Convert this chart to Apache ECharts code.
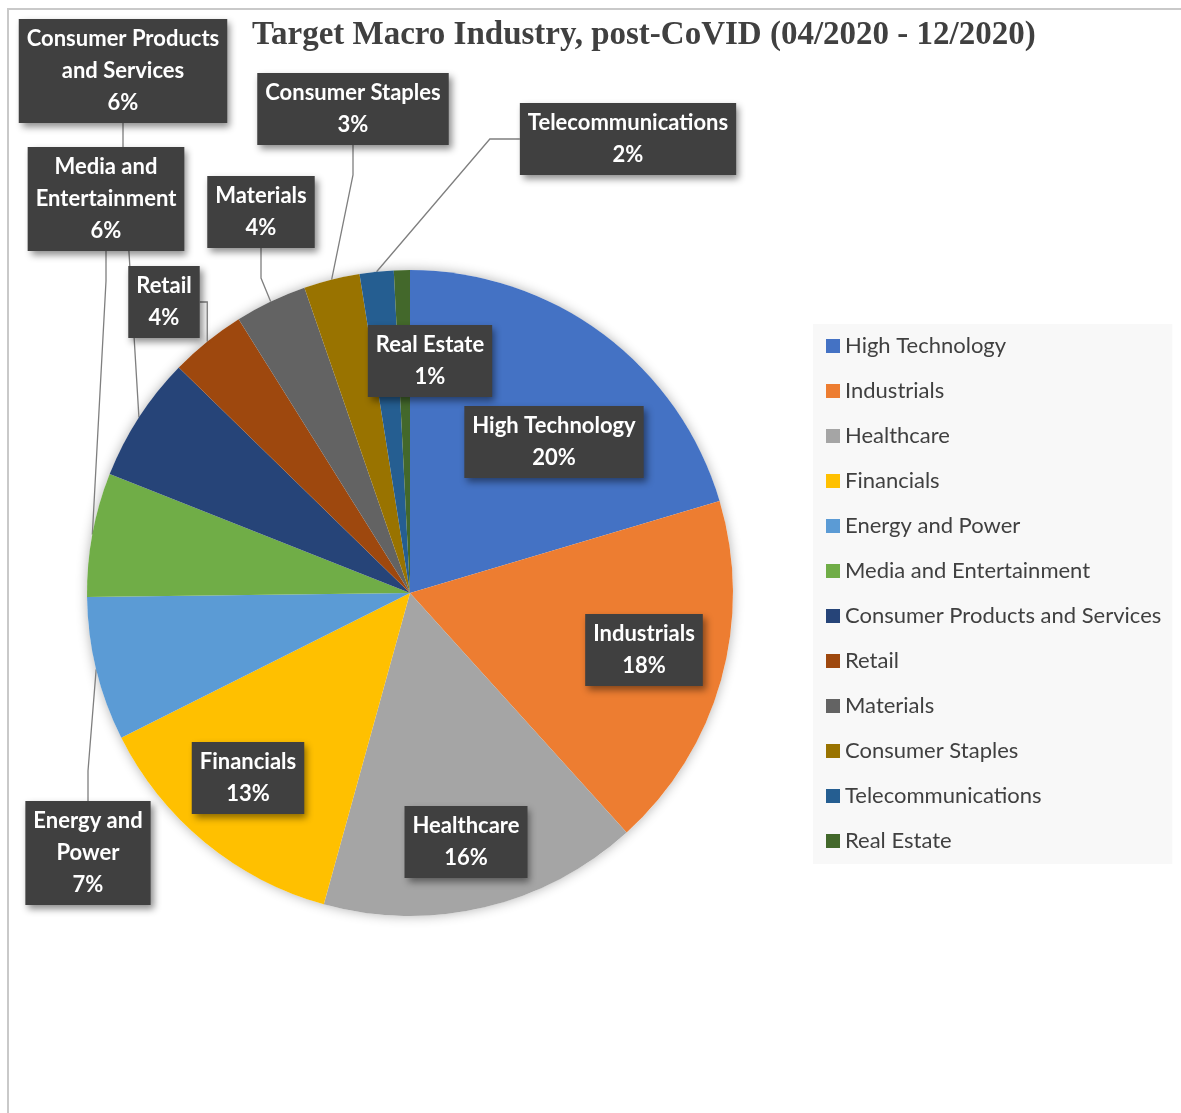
<!DOCTYPE html>
<html>
<head>
<meta charset="utf-8">
<script src="https://cdn.jsdelivr.net/npm/echarts@6/dist/echarts.min.js"></script>
<style>
  html, body { margin: 0; padding: 0; background: #fff; }
  #chart { width: 1181px; height: 1113px; }
</style>
</head>
<body>
<div id="chart"></div>
<script>
// ---- data ----
const categories = [
  'High Technology', 'Industrials', 'Healthcare', 'Financials',
  'Energy and Power', 'Media and Entertainment', 'Consumer Products and Services',
  'Retail', 'Materials', 'Consumer Staples', 'Telecommunications', 'Real Estate'
];
const shares = [20.4, 17.9, 16.0, 13.3, 7.2, 6.2, 6.3, 3.8, 3.6, 2.8, 1.7, 0.8];
const labelTexts = [
  'High Technology', 'Industrials', 'Healthcare', 'Financials',
  'Energy and\nPower', 'Media and\nEntertainment', 'Consumer Products\nand Services',
  'Retail', 'Materials', 'Consumer Staples', 'Telecommunications', 'Real Estate'
];
const titleText = 'Target Macro Industry, post-CoVID (04/2020 - 12/2020)';

// ---- styles ----
const colors = ['#4472C4', '#ED7D31', '#A5A5A5', '#FFC000', '#5B9BD5', '#70AD47',
  '#264478', '#9E480E', '#636363', '#997300', '#255E91', '#43682B'];
// label box centres (layout only)
const labelCentres = [
  [554, 442], [644, 650], [466, 842], [248, 778], [88, 853], [106, 199],
  [123, 71], [164, 302], [261, 212], [353, 109], [628, 139], [430, 361]
];
const insideLabel = [true, true, true, true, false, false, false, false, false, false, false, true];

const chart = echarts.init(document.getElementById('chart'), null, { renderer: 'canvas' });

const data = categories.map((name, i) => ({
  name: name,
  value: shares[i],
  itemStyle: { color: colors[i] },
  labelLine: { show: !insideLabel[i] }
}));

const option = {
  backgroundColor: '#ffffff',
  animation: false,
  title: {
    text: titleText,
    left: 247,
    top: 14,
    textStyle: {
      fontFamily: 'Liberation Serif',
      fontWeight: 'bold',
      fontSize: 33,
      color: '#404040'
    }
  },
  legend: {
    orient: 'vertical',
    left: 813,
    top: 324,
    padding: [10, 11, 11, 13],
    backgroundColor: '#f8f8f8',
    itemWidth: 14,
    itemHeight: 14,
    itemGap: 21,
    icon: 'rect',
    data: categories,
    textStyle: {
      fontFamily: 'Lato',
      fontSize: 22,
      lineHeight: 24,
      color: '#404040'
    }
  },
  graphic: [{
    type: 'rect',
    z: -10,
    silent: true,
    shape: { x: 8, y: 9, width: 1200, height: 1200 },
    style: { fill: 'none', stroke: '#c9c9c9', lineWidth: 2 }
  }],
  series: [
    {
      type: 'pie',
      name: 'shadow',
      silent: true,
      z: 1,
      center: [410, 593],
      radius: 323,
      label: { show: false },
      labelLine: { show: false },
      itemStyle: {
        color: '#ffffff',
        shadowBlur: 12,
        shadowColor: 'rgba(0,0,0,0.3)'
      },
      data: [{ name: '', value: 1 }]
    },
    {
      type: 'pie',
      name: 'Target Macro Industry',
      z: 2,
      center: [410, 593],
      radius: 323,
      startAngle: 90,
      clockwise: true,
      percentPrecision: 0,
      avoidLabelOverlap: false,
      data: data,
      label: {
        show: true,
        position: 'outside',
        formatter: (p) => labelTexts[p.dataIndex] + '\n' + p.percent + '%',
        fontFamily: 'Lato',
        fontWeight: 'bold',
        fontSize: 22,
        lineHeight: 32,
        color: '#ffffff',
        align: 'center',
        backgroundColor: '#404040',
        padding: [4, 8, 4, 8],
        shadowColor: 'rgba(0,0,0,0.45)',
        shadowBlur: 7,
        shadowOffsetX: 3,
        shadowOffsetY: 4
      },
      labelLine: {
        show: true,
        lineStyle: { color: '#7f7f7f', width: 1.3 }
      },
      labelLayout: function (params) {
        const c = labelCentres[params.dataIndex];
        return { x: c[0], y: c[1], align: 'center', verticalAlign: 'middle' };
      }
    }
  ]
};

chart.setOption(option);
</script>
</body>
</html>
